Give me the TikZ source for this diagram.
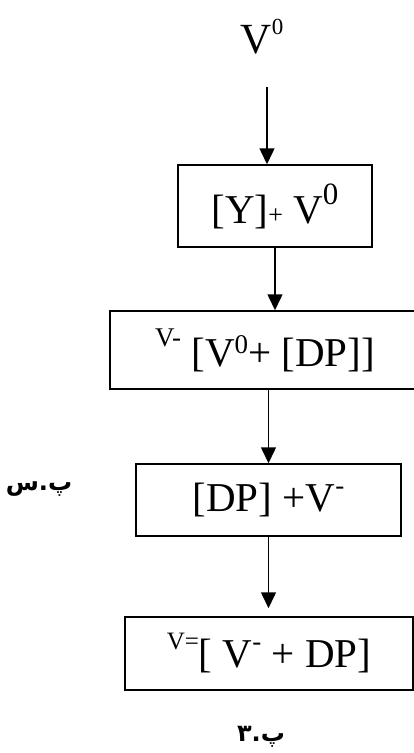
\documentclass[tikz,border=0pt]{standalone}
\usepackage{fontspec}
\setmainfont{Liberation Serif}
\newfontfamily\arabicfont[Script=Arabic]{DejaVu Sans}
\TeXXeTstate=1
\usetikzlibrary{arrows.meta}

% raised small text: \hi[size]{raise}{text}
\newcommand\hi[3][28]{\raisebox{#2}{\fontsize{#1}{#1}\selectfont #3}}

\begin{document}
\begin{tikzpicture}[x=1pt, y=-1pt,
    stagebox/.style={draw, line width=1.5pt, inner sep=0pt, font=\fontsize{41}{41}\selectfont},
    flow/.style={line width=1.5pt, -{Triangle[width=15pt,length=16pt]}},
    persian/.style={font=\arabicfont\bfseries\fontsize{24}{24}\selectfont}]

    \useasboundingbox (0,0) rectangle (414,753);

    % head and the stages of the derivation
    \node[font=\fontsize{43}{43}\selectfont] (v0) at (262,37) {V\hi[23]{19pt}{0}};
    \node[stagebox, minimum width=194pt, minimum height=82pt] (yv) at (275,206)
        {[Y]{\fontsize{26}{26}\selectfont+} V\hi[31]{19pt}{0}};
    \node[stagebox, minimum width=310pt, minimum height=78pt] (vdp) at (265,350)
        {\hi[27]{20pt}{V-} [V\hi[27]{13pt}{0}+ [DP]]};
    \node[stagebox, minimum width=265pt, minimum height=72pt] (dpv) at (268.5,500)
        {[DP] +V\hi[27]{17pt}{-}};
    \node[stagebox, minimum width=288pt, minimum height=73pt] (vdv) at (269,653.5)
        {\hi[25]{18pt}{V=}[ V\hi[27]{17pt}{-} + DP]};

    % side labels
    \node[persian] (sp) at (39,489) {\beginR پ.س\endR};
    \node[persian] (fig) at (261,737) {\beginR پ.۳\endR};

    % arrows between the stages
    \coordinate (start) at (267,87);
    \draw[flow] (start) -- (start |- yv.north);
    \draw[flow] (yv.south) -- (yv.south |- vdp.north);
    \draw[flow] (dpv.north |- vdp.south) -- (dpv.north);
    \draw[flow, shorten >=8pt] (dpv.south) -- (dpv.south |- vdv.north);
\end{tikzpicture}
\end{document}
